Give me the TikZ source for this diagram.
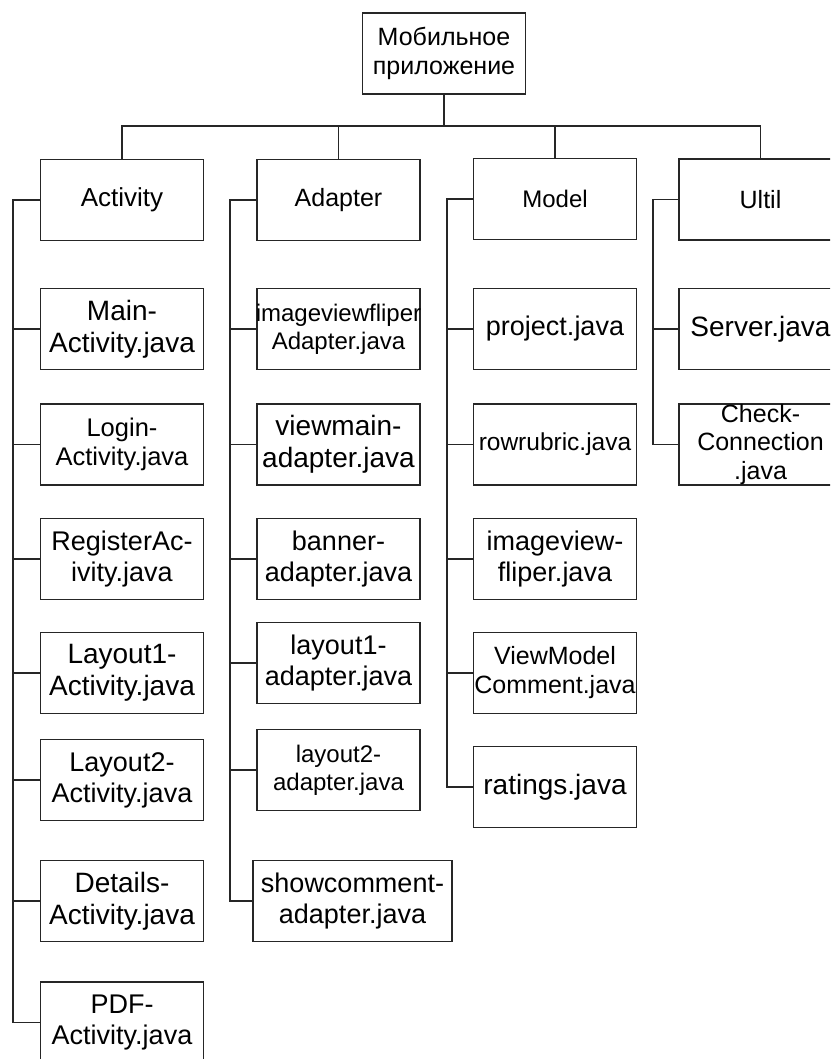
\documentclass[tikz,border=0pt]{standalone}
\usepackage{fontspec}
\setmainfont{Liberation Sans}
\newcommand{\ovl}[1]{\makebox[\linewidth][c]{#1}}
\begin{document}
\begin{tikzpicture}[x=1pt,y=-1pt,
  box/.style={draw=black!85, line width=1.3pt, text width=163pt, inner xsep=0pt, inner ysep=0pt,
    minimum height=81pt, align=center, fill=white},
  wbox/.style={box, text width=199pt},
  ln/.style={draw=black!85, line width=1.3pt}]
\useasboundingbox (0,0) rectangle (830,1059);
\clip (0,0) rectangle (830,1059);
\fill[white] (0,0) rectangle (830,1059);

% root and first level
\node[box, font=\fontsize{25}{29}\selectfont] (root) at (444,53.5) {Мобильное\\приложение};
\node[box, font=\fontsize{26}{30}\selectfont] (act) at (122,200) {Activity};
\node[box, font=\fontsize{25}{29}\selectfont] (adp) at (338.5,200) {Adapter};
\node[box, font=\fontsize{24}{28}\selectfont] (mod) at (555,199) {Model};
\node[box, font=\fontsize{25}{29}\selectfont] (ult) at (760.5,199.5) {Ultil};

% Activity children
\node[box, font=\fontsize{28}{32}\selectfont] (a1) at (122,329) {Main-\\Activity.java};
\node[box, font=\fontsize{25.5}{29}\selectfont] (a2) at (122,444.5) {Login-\\Activity.java};
\node[box, font=\fontsize{27}{31}\selectfont] (a3) at (122,559) {RegisterAc-\\ivity.java};
\node[box, font=\fontsize{28}{32}\selectfont] (a4) at (122,673) {Layout1-\\Activity.java};
\node[box, font=\fontsize{27}{31}\selectfont] (a5) at (122,780) {Layout2-\\Activity.java};
\node[box, font=\fontsize{28}{32}\selectfont] (a6) at (122,901) {Details-\\Activity.java};
\node[box, font=\fontsize{27}{31}\selectfont] (a7) at (122,1022.5) {PDF-\\Activity.java};

% Adapter children
\node[box, font=\fontsize{24}{28}\selectfont] (d1) at (338.5,329) {\ovl{imageviewfliper}\\Adapter.java};
\node[box, font=\fontsize{28}{32}\selectfont] (d2) at (338.5,444.5) {viewmain-\\adapter.java};
\node[box, font=\fontsize{27}{31}\selectfont] (d3) at (338.5,559) {banner-\\adapter.java};
\node[box, font=\fontsize{27}{31}\selectfont] (d4) at (338.5,663) {layout1-\\adapter.java};
\node[box, font=\fontsize{24}{28}\selectfont] (d5) at (338.5,770) {layout2-\\adapter.java};
\node[wbox, font=\fontsize{27}{31}\selectfont] (d6) at (352.5,901) {showcomment-\\adapter.java};

% Model children
\node[box, font=\fontsize{27}{31}\selectfont] (m1) at (555,329) {project.java};
\node[box, font=\fontsize{24.5}{28}\selectfont] (m2) at (555,444.5) {\ovl{rowrubric.java}};
\node[box, font=\fontsize{27}{31}\selectfont] (m3) at (555,559) {imageview-\\fliper.java};
\node[box, font=\fontsize{25}{29}\selectfont] (m4) at (555,673) {ViewModel\\\ovl{Comment.java}};
\node[box, font=\fontsize{28}{32}\selectfont] (m5) at (555,787) {ratings.java};

% Util children
\node[box, font=\fontsize{28}{32}\selectfont] (u1) at (760.5,329) {\ovl{Server.java}};
\node[box, font=\fontsize{25}{28.5}\selectfont] (u2) at (760.5,444.5) {Check-\\Connection\\.java};

% bus from root
\coordinate (bus) at (444,126);
\coordinate (tA) at (13,0);
\coordinate (tD) at (230,0);
\coordinate (tM) at (447,0);
\coordinate (tU) at (653,0);

\draw[ln] (root.south) -- (bus);
\draw[ln] (act.north) |- (bus) -| (ult.north);
\draw[ln] (adp.north) -- (adp.north |- bus);
\draw[ln] (mod.north) -- (mod.north |- bus);

% trunks
\draw[ln] (act.west) -- (act.west -| tA) -- (a7.west -| tA) -- (a7.west);
\foreach \n in {a1,a2,a3,a4,a5,a6} \draw[ln] (\n.west) -- (\n.west -| tA);

\draw[ln] (adp.west) -- (adp.west -| tD) -- (d6.west -| tD) -- (d6.west);
\foreach \n in {d1,d2,d3,d4,d5} \draw[ln] (\n.west) -- (\n.west -| tD);

\draw[ln] (mod.west) -- (mod.west -| tM) -- (m5.west -| tM) -- (m5.west);
\foreach \n in {m1,m2,m3,m4} \draw[ln] (\n.west) -- (\n.west -| tM);

\draw[ln] (ult.west) -- (ult.west -| tU) -- (u2.west -| tU) -- (u2.west);
\draw[ln] (u1.west) -- (u1.west -| tU);
\end{tikzpicture}
\end{document}
